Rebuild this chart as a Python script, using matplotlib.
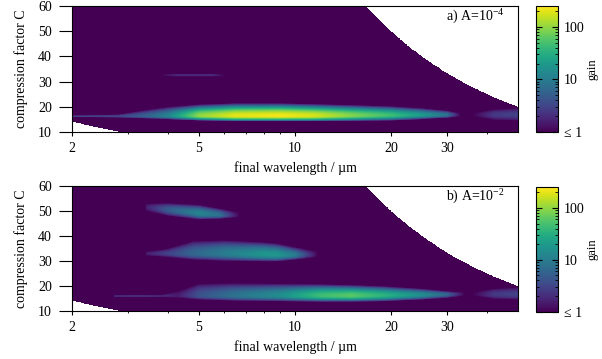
import numpy as np
import matplotlib
matplotlib.use("Agg")
import matplotlib.pyplot as plt
import matplotlib.ticker as ticker
from matplotlib.colors import LogNorm

plt.rcParams['font.family'] = ['Liberation Serif', 'DejaVu Serif']
plt.rcParams['font.size'] = 10
plt.rcParams['mathtext.fontset'] = 'custom'
plt.rcParams['mathtext.rm'] = 'Liberation Serif'
plt.rcParams['mathtext.default'] = 'rm'

# domain of the scan: product C * wavelength is bounded
CL_MIN = 28.5
CL_MAX = 1000.0

# ---- panel a) A=1e-4 : gain bands (wavelength samples, core gain, core C, upper/lower edge C)
a_main_lam = [2.0, 2.8, 3.5, 4.0, 5.0, 6.5, 9.0, 11.5, 15.0, 20.0, 25.0, 30.0, 33.0]
a_main_gain = [3, 3, 6, 12, 100, 200, 230, 180, 90, 45, 20, 8, 1]
a_main_core = [16.2, 16.2, 16.2, 16.2, 16.3, 16.3, 16.3, 16.3, 16.4, 16.5, 16.6, 16.7, 16.8]
a_main_top = [16.6, 17.0, 19.0, 20.0, 21.0, 21.5, 21.5, 21.2, 20.8, 20.3, 19.5, 18.5, 17.5]
a_main_bot = [15.8, 15.6, 15.2, 15.0, 14.5, 14.2, 14.2, 14.2, 14.3, 14.5, 15.0, 15.5, 16.0]

a_line_lam = [3.8, 4.3, 5.5, 6.0]
a_line_gain = [1, 2, 2, 1]
a_line_core = [32.6, 32.6, 32.6, 32.6]
a_line_top = [33.2, 33.2, 33.2, 33.2]
a_line_bot = [32.0, 32.0, 32.0, 32.0]

a_tail_lam = [36.0, 42.0, 50.0]
a_tail_gain = [1, 2.5, 3]
a_tail_core = [16.8, 16.8, 16.8]
a_tail_top = [17.5, 19.0, 19.5]
a_tail_bot = [16.0, 14.8, 14.5]

# ---- panel b) A=1e-2
b_top_lam = [3.4, 4.0, 5.0, 5.8, 6.7]
b_top_gain = [1.5, 5, 12, 8, 1]
b_top_core = [51.5, 50.5, 49.0, 48.3, 48.0]
b_top_top = [53.0, 53.2, 52.5, 51.0, 49.5]
b_top_bot = [50.0, 48.0, 46.5, 46.8, 47.5]

b_mid_lam = [3.4, 4.0, 4.8, 6.0, 8.0, 8.8, 10.0, 11.8]
b_mid_gain = [1.5, 3, 6, 10, 18, 18, 10, 1]
b_mid_core = [33.0, 33.0, 33.0, 33.0, 32.6, 32.4, 32.4, 32.5]
b_mid_top = [33.8, 35.0, 38.0, 38.3, 37.5, 37.0, 35.5, 34.0]
b_mid_bot = [32.2, 31.5, 30.5, 30.0, 29.8, 29.8, 30.5, 31.5]

b_low_lam = [2.7, 3.2, 3.8, 4.3, 5.0, 6.5, 9.0, 12.0, 15.0, 19.0, 25.0, 30.0, 34.0]
b_low_gain = [2, 2.5, 2, 1.5, 4, 8, 15, 45, 60, 35, 15, 6, 1]
b_low_core = [16.0, 16.0, 16.0, 16.1, 16.1, 16.1, 16.1, 16.1, 16.1, 16.2, 16.4, 16.6, 16.8]
b_low_top = [16.4, 16.4, 16.4, 18.0, 21.0, 21.2, 21.0, 20.8, 20.5, 20.0, 19.0, 18.0, 17.5]
b_low_bot = [15.6, 15.6, 15.6, 15.2, 14.5, 14.0, 13.8, 13.6, 13.6, 13.8, 14.5, 15.2, 16.0]

b_tail_lam = [36.0, 42.0, 50.0]
b_tail_gain = [1, 2.5, 3]
b_tail_core = [16.6, 16.6, 16.6]
b_tail_top = [17.5, 19.0, 19.5]
b_tail_bot = [16.0, 14.8, 14.5]

GAIN_MIN, GAIN_MAX = 1, 250


def band_field(L, CC, lam, gain, core, top, bot):
    """log10 gain of one band, shaped between its lower and upper edge."""
    x = np.log10(L)
    xp = np.log10(lam)
    g = np.interp(x, xp, np.log10(gain), left=0, right=0)
    c0 = np.interp(x, xp, core)
    cu = np.interp(x, xp, top)
    cd = np.interp(x, xp, bot)
    t = np.where(CC >= c0, (CC - c0) / (cu - c0), (c0 - CC) / (c0 - cd))
    return g * np.clip(1 - t ** 2, 0, None)


lam = np.logspace(np.log10(2), np.log10(50), 700)
cc = np.linspace(10, 60, 500)
L, CC = np.meshgrid(lam, cc)

bands_a = [
    (a_main_lam, a_main_gain, a_main_core, a_main_top, a_main_bot),
    (a_line_lam, a_line_gain, a_line_core, a_line_top, a_line_bot),
    (a_tail_lam, a_tail_gain, a_tail_core, a_tail_top, a_tail_bot),
]
bands_b = [
    (b_top_lam, b_top_gain, b_top_core, b_top_top, b_top_bot),
    (b_mid_lam, b_mid_gain, b_mid_core, b_mid_top, b_mid_bot),
    (b_low_lam, b_low_gain, b_low_core, b_low_top, b_low_bot),
    (b_tail_lam, b_tail_gain, b_tail_core, b_tail_top, b_tail_bot),
]


def gain_map(bands):
    lg = np.zeros_like(L)
    for b in bands:
        lg = np.maximum(lg, band_field(L, CC, *b))
    g = np.clip(10 ** lg, GAIN_MIN, GAIN_MAX)
    prod = L * CC
    g[(prod < CL_MIN) | (prod > CL_MAX)] = np.nan
    return np.ma.masked_invalid(g)


cmap = plt.get_cmap('viridis').copy()
cmap.set_bad('white')
norm = LogNorm(vmin=GAIN_MIN, vmax=GAIN_MAX)

fig = plt.figure(figsize=(6.02, 3.59), dpi=100)
ax_a = fig.add_axes([0.1196, 0.6323, 0.7409, 0.351])
ax_b = fig.add_axes([0.1196, 0.1337, 0.7409, 0.3482])
cax_a = fig.add_axes([0.890, 0.6332, 0.0376, 0.3500])
cax_b = fig.add_axes([0.890, 0.1318, 0.0376, 0.3465])

for ax, cax, bands, label in [(ax_a, cax_a, bands_a, 'a) A=10$^{-4}$'),
                              (ax_b, cax_b, bands_b, 'b) A=10$^{-2}$')]:
    mesh = ax.pcolormesh(lam, cc, gain_map(bands), cmap=cmap, norm=norm,
                         shading='auto', rasterized=True)
    ax.set_xscale('log')
    ax.set_xlim(2, 50)
    ax.set_ylim(10, 60)
    ax.set_xticks([2, 5, 10, 20, 30])
    ax.xaxis.set_major_formatter(ticker.FixedFormatter(['2', '5', '10', '20', '30']))
    ax.xaxis.set_minor_locator(ticker.FixedLocator([3, 4, 6, 7, 8, 9, 40]))
    ax.xaxis.set_minor_formatter(ticker.NullFormatter())
    ax.set_yticks([10, 20, 30, 40, 50, 60])
    ax.tick_params(axis='x', which='major', direction='out', length=3, width=0.8, pad=4)
    ax.tick_params(axis='x', which='minor', direction='out', length=1.5, width=0.6)
    ax.tick_params(axis='y', which='major', direction='out', length=9.5, width=0.8, pad=5)
    for s in ax.spines.values():
        s.set_linewidth(0.8)
    ax.set_xlabel('final wavelength / µm', labelpad=5)
    ax.set_ylabel('compression factor C', labelpad=7)
    ax.text(0.969, 0.91, label, transform=ax.transAxes, ha='right', va='center')

    cb = fig.colorbar(mesh, cax=cax)
    cb.set_ticks([1, 10, 100])
    cb.set_ticklabels(['≤ 1', '10', '100'])
    cax.yaxis.set_minor_locator(ticker.LogLocator(base=10, subs=np.arange(2, 10)))
    cax.yaxis.set_minor_formatter(ticker.NullFormatter())
    cax.yaxis.set_ticks_position('both')
    cax.tick_params(which='major', direction='in', length=4, width=0.8, pad=4,
                    left=True, right=True, labelleft=False, labelright=True)
    cax.tick_params(which='minor', direction='in', length=2, width=0.6,
                    left=True, right=True)
    cb.outline.set_linewidth(0.8)
    cb.set_label('gain', labelpad=1, fontsize=9)

fig.savefig('out.png', dpi=100)
